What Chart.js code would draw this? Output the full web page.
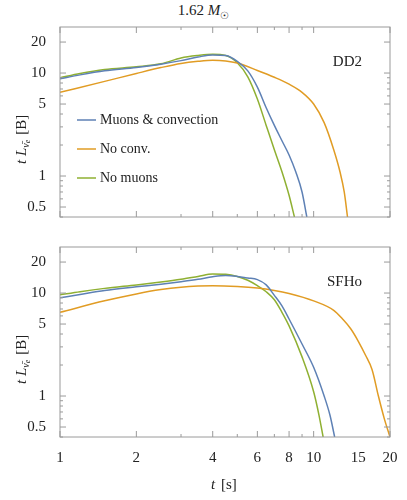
<!DOCTYPE html>
<html>
<head>
<meta charset="utf-8">
<script src="https://cdn.jsdelivr.net/npm/chart.js@4"></script>
<style>
  body { margin: 0; background: #fff; }
  #wrap { position: relative; width: 407px; height: 500px; }
  canvas { position: absolute; left: 0; }
  #title { position: absolute; top: 2px; left: 0; width: 407px; text-align: center;
           font: 15px "Liberation Serif", "DejaVu Serif", serif; color: #222; }
</style>
</head>
<body>
<div id="wrap">
  <div id="title">1.62 <i>M</i><sub style="font-size:10px">☉</sub></div>
  <canvas id="top" style="top:0"></canvas>
  <canvas id="bot" style="top:232px"></canvas>
</div>
<script>
// data, t in s, t*L in B
const seriesLabels = ['Muons & convection', 'No conv.', 'No muons'];
const colors = ['#5e81b5', '#e19c24', '#8fb032'];

const dd2BlueT = [1, 1.2, 1.5, 2, 2.5, 3, 3.5, 4, 4.5, 5, 5.5, 6, 6.5, 7, 7.5, 8, 8.5, 9, 9.4];
const dd2BlueY = [8.8, 9.6, 10.5, 11.3, 12.2, 13.2, 14.3, 15, 14.8, 13, 10.5, 7.3, 4.6, 3.1, 2.2, 1.6, 1.1, 0.7, 0.4];
const dd2OrangeT = [1, 1.5, 2, 2.5, 3, 3.5, 4, 4.5, 5, 6, 7, 8, 9, 10, 11, 12, 12.7, 13.2, 13.6];
const dd2OrangeY = [6.5, 8.3, 9.9, 11.3, 12.4, 13, 13.3, 13.1, 12.5, 10.6, 9.1, 7.8, 6.5, 5, 3.3, 1.8, 1.1, 0.7, 0.4];
const dd2GreenT = [1, 1.2, 1.5, 2, 2.5, 3, 3.5, 4, 4.5, 5, 5.5, 6, 6.5, 7, 7.5, 8, 8.4];
const dd2GreenY = [9, 9.9, 10.8, 11.5, 12.3, 14, 14.8, 15.2, 14.8, 12.6, 9.2, 5.6, 3.1, 1.8, 1.1, 0.65, 0.4];

const sfhoBlueT = [1, 1.2, 1.5, 2, 2.5, 3, 3.5, 4, 4.5, 5, 5.5, 6, 6.5, 7, 7.5, 8, 9, 10, 11, 11.6, 12.1];
const sfhoBlueY = [9, 9.7, 10.6, 11.5, 12.2, 12.9, 13.6, 14.4, 14.8, 14.5, 14, 13.5, 12, 9.5, 7.5, 5.6, 3.2, 1.9, 1, 0.65, 0.4];
const sfhoOrangeT = [1, 1.5, 2, 2.5, 3, 3.5, 4, 5, 6, 7, 8, 10, 12, 13, 14, 15, 16, 17, 18, 19, 20];
const sfhoOrangeY = [6.5, 8.4, 9.8, 10.8, 11.4, 11.7, 11.8, 11.6, 11.2, 10.6, 9.9, 8.4, 6.8, 5.6, 4.5, 3.4, 2.5, 1.8, 1, 0.6, 0.4];
const sfhoGreenT = [1, 1.2, 1.5, 2, 2.5, 3, 3.5, 4, 4.5, 5, 5.5, 6, 6.5, 7, 7.5, 8, 9, 10, 10.5, 10.9];
const sfhoGreenY = [9.6, 10.3, 11.1, 12, 12.8, 13.6, 14.5, 15.3, 15.2, 14.5, 13.3, 11.8, 10.3, 8.6, 6.5, 4.8, 2.4, 1.1, 0.65, 0.4];

const xTicks = [1, 2, 4, 6, 8, 10, 15, 20];
const yTicks = [0.5, 1, 5, 10, 20];
const yMin = 0.4, yMax = 28;

const serif = '"Liberation Serif", "DejaVu Serif", serif';
const frameColor = '#9a9a9a';

function pts(ts, ys) { return ts.map((t, i) => ({ x: t, y: ys[i] })); }

function minorValues(min, max) {
  const out = [];
  for (let d = -2; d <= 2; d++) {
    for (let m = 1; m <= 9; m++) {
      const v = m * Math.pow(10, d);
      if (v >= min && v <= max) out.push(v);
    }
  }
  return out;
}

const framePlugin = {
  id: 'frame',
  afterDraw(chart, args, opts) {
    const ctx = chart.ctx, a = chart.chartArea;
    const xs = chart.scales.x, ys = chart.scales.y;
    ctx.save();
    ctx.strokeStyle = frameColor;
    ctx.lineWidth = 1;
    ctx.strokeRect(a.left, a.top, a.right - a.left, a.bottom - a.top);
    ctx.beginPath();
    minorValues(1, 20).forEach(v => {
      const px = xs.getPixelForValue(v);
      const len = xTicks.includes(v) ? 6 : 3;
      ctx.moveTo(px, a.bottom); ctx.lineTo(px, a.bottom - len);
      ctx.moveTo(px, a.top); ctx.lineTo(px, a.top + len);
    });
    minorValues(yMin, yMax).forEach(v => {
      const py = ys.getPixelForValue(v);
      const len = yTicks.includes(v) ? 6 : 3;
      ctx.moveTo(a.left, py); ctx.lineTo(a.left + len, py);
      ctx.moveTo(a.right, py); ctx.lineTo(a.right - len, py);
    });
    ctx.stroke();

    // y axis title
    ctx.fillStyle = '#222';
    ctx.translate(22, (a.top + a.bottom) / 2);
    ctx.rotate(-Math.PI / 2);
    ctx.textBaseline = 'middle';
    ctx.font = 'italic 15px ' + serif;
    let x = -42;
    ctx.fillText('t L', x, 0); x += ctx.measureText('t L').width;
    ctx.font = 'italic 10px ' + serif;
    ctx.fillText('ν̄', x, 4); x += ctx.measureText('ν').width;
    ctx.font = 'italic 8px ' + serif;
    ctx.fillText('e', x, 6); x += ctx.measureText('e').width + 5;
    ctx.font = '15px ' + serif;
    ctx.fillText('[B]', x, 0);
    ctx.restore();

    // panel label and legend
    ctx.save();
    ctx.fillStyle = '#222';
    ctx.font = '15px ' + serif;
    ctx.textAlign = 'right';
    ctx.textBaseline = 'middle';
    ctx.fillText(opts.label, a.right - 28, a.top + 35);
    if (opts.legend) {
      chart.data.datasets.forEach((ds, i) => {
        const y = a.top + 93 + i * 29;
        ctx.strokeStyle = ds.borderColor;
        ctx.lineWidth = 1.5;
        ctx.beginPath(); ctx.moveTo(a.left + 17, y); ctx.lineTo(a.left + 36, y); ctx.stroke();
        ctx.textAlign = 'left';
        ctx.font = '14px ' + serif;
        ctx.fillText(ds.label, a.left + 40, y);
      });
    }
    // x axis title
    if (opts.showX) {
      ctx.textAlign = 'left';
      ctx.font = 'italic 15px ' + serif;
      const cx = (a.left + a.right) / 2 - 14;
      ctx.fillText('t', cx, a.bottom + 48);
      ctx.font = '15px ' + serif;
      ctx.fillText('[s]', cx + 10, a.bottom + 48);
    }
    ctx.restore();
  }
};

function makeChart(id, height, padTop, data, label, showX, legend) {
  const c = document.getElementById(id);
  c.width = 407; c.height = height;
  c.style.width = '407px'; c.style.height = height + 'px';
  return new Chart(c, {
    type: 'line',
    data: {
      datasets: data.map((d, i) => ({
        label: seriesLabels[i], data: d, borderColor: colors[i],
        borderWidth: 1.5, pointRadius: 0, cubicInterpolationMode: 'monotone'
      }))
    },
    options: {
      responsive: false, animation: false, devicePixelRatio: 1,
      layout: { padding: { top: padTop, right: 17, bottom: showX ? 0 : 1, left: 0 } },
      plugins: { legend: { display: false }, tooltip: { enabled: false }, frame: { label, legend, showX } },
      scales: {
        x: {
          type: 'logarithmic', min: 1, max: 20, display: showX,
          afterBuildTicks: s => { s.ticks = xTicks.map(v => ({ value: v })); },
          afterFit: s => { if (showX) s.height = 63; },
          grid: { display: false }, border: { display: false },
          ticks: { color: '#222', font: { family: serif, size: 15 }, padding: 4, maxRotation: 0,
                   callback: v => String(v) }
        },
        y: {
          type: 'logarithmic', min: yMin, max: yMax,
          afterBuildTicks: s => { s.ticks = yTicks.map(v => ({ value: v })); },
          afterFit: s => { s.width = 60; },
          grid: { display: false }, border: { display: false },
          ticks: { color: '#222', font: { family: serif, size: 15 }, padding: 6, callback: v => String(v) }
        }
      }
    },
    plugins: [framePlugin]
  });
}

makeChart('top', 232, 27,
  [pts(dd2BlueT, dd2BlueY), pts(dd2OrangeT, dd2OrangeY), pts(dd2GreenT, dd2GreenY)], 'DD2', false, true);
makeChart('bot', 268, 5,
  [pts(sfhoBlueT, sfhoBlueY), pts(sfhoOrangeT, sfhoOrangeY), pts(sfhoGreenT, sfhoGreenY)], 'SFHo', true, false);
</script>
</body>
</html>
